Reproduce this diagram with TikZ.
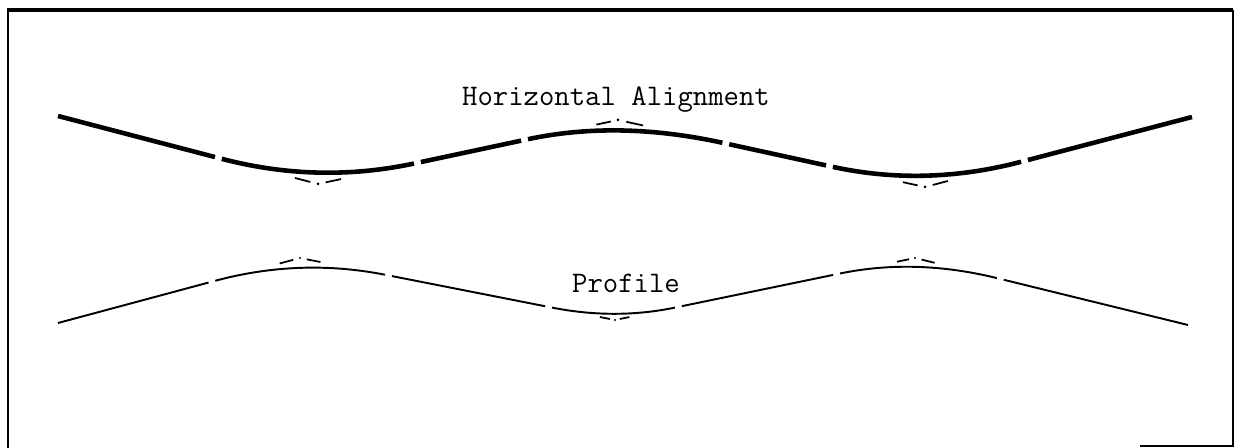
\documentclass[tikz,border=0pt]{standalone}
\usepackage{fontspec}
\usepackage{tikz}
\usetikzlibrary{calc}
\begin{document}
\begin{tikzpicture}[x=0.02cm,y=-0.02cm,
    alignment/.style={line width=2.6pt},
    profile/.style={line width=1.1pt},
    pimark/.style={line width=1pt},
    titletext/.style={font=\fontsize{17}{20}\selectfont\ttfamily,inner sep=0pt}]
    \useasboundingbox (0,0) rectangle (1235,448);
    % frame
    \draw [line width=1.2pt] (8,448) -- (8,10);
    \draw [line width=1.8pt] (7,10) -- (1233,10);
    \draw [line width=1.2pt] (1233,10) -- (1233,446) -- (1140,446);
    % horizontal alignment
    \coordinate (H0) at (58,116);
    \coordinate (PI1) at (318,184);
    \coordinate (PI2) at (618,120);
    \coordinate (PI3) at (925,187);
    \coordinate (H4) at (1192,117);
    \coordinate (C1-a) at ($(H0)!0.63!(PI1)$);
    \coordinate (C1-b) at ($(PI1)!0.32!(PI2)$);
    \coordinate (C2-a) at ($(PI1)!0.70!(PI2)$);
    \coordinate (C2-b) at ($(PI2)!0.34!(PI3)$);
    \coordinate (C3-a) at ($(PI2)!0.70!(PI3)$);
    \coordinate (C3-b) at ($(PI3)!0.36!(H4)$);
    \draw [alignment,shorten >=4pt] (H0) -- (C1-a);
    \draw [alignment,shorten <=4pt,shorten >=4pt] (C1-b) -- (C2-a);
    \draw [alignment,shorten <=4pt,shorten >=4pt] (C2-b) -- (C3-a);
    \draw [alignment,shorten <=4pt] (C3-b) -- (H4);
    \foreach \i in {1,2,3}{
        \draw [alignment] (C\i-a) .. controls ($(C\i-a)!0.667!(PI\i)$) and ($(C\i-b)!0.667!(PI\i)$) .. (C\i-b);
        \draw [pimark] ($(C\i-a)!0.76!(PI\i)$) -- ($(C\i-a)!0.92!(PI\i)$);
        \draw [pimark] ($(C\i-b)!0.76!(PI\i)$) -- ($(C\i-b)!0.92!(PI\i)$);
        \fill (PI\i) circle (1.5);
    }
    % profile
    \coordinate (P0) at (58,323);
    \coordinate (V1) at (300,258);
    \coordinate (V2) at (615,320);
    \coordinate (V3) at (915,258);
    \coordinate (P4) at (1188,325);
    \coordinate (D1-a) at ($(P0)!0.65!(V1)$);
    \coordinate (D1-b) at ($(V1)!0.27!(V2)$);
    \coordinate (D2-a) at ($(V1)!0.80!(V2)$);
    \coordinate (D2-b) at ($(V2)!0.20!(V3)$);
    \coordinate (D3-a) at ($(V2)!0.75!(V3)$);
    \coordinate (D3-b) at ($(V3)!0.30!(P4)$);
    \draw [profile,shorten >=4pt] (P0) -- (D1-a);
    \draw [profile,shorten <=4pt,shorten >=4pt] (D1-b) -- (D2-a);
    \draw [profile,shorten <=4pt,shorten >=4pt] (D2-b) -- (D3-a);
    \draw [profile,shorten <=4pt] (D3-b) -- (P4);
    \foreach \i in {1,2,3}{
        \draw [profile] (D\i-a) .. controls ($(D\i-a)!0.667!(V\i)$) and ($(D\i-b)!0.667!(V\i)$) .. (D\i-b);
        \draw [pimark] ($(D\i-a)!0.76!(V\i)$) -- ($(D\i-a)!0.92!(V\i)$);
        \draw [pimark] ($(D\i-b)!0.76!(V\i)$) -- ($(D\i-b)!0.92!(V\i)$);
        \fill (V\i) circle (1.2);
    }
    % labels
    \node [titletext] (hlabel) at (616,100) {Horizontal Alignment};
    \node [titletext] (plabel) at (626,283) {Profile};
\end{tikzpicture}
\end{document}
